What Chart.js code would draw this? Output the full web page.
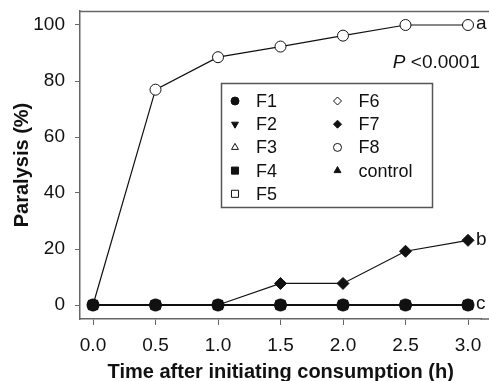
<!DOCTYPE html>
<html>
<head>
<meta charset="utf-8">
<script src="https://cdn.jsdelivr.net/npm/chart.js@4"></script>
<style>
    html, body { margin: 0; padding: 0; background: #fff; }
    #wrap { width: 489px; height: 381px; }
</style>
</head>
<body>
<div id="wrap"><canvas id="chart" width="489" height="381"></canvas></div>
<script>
// Data
const hours = [0.0, 0.5, 1.0, 1.5, 2.0, 2.5, 3.0];
const seriesNames = ['F1', 'F2', 'F3', 'F4', 'F5', 'F6', 'F7', 'F8', 'control'];
const f1 = [0, 0, 0, 0, 0, 0, 0];
const f2 = [0, 0, 0, 0, 0, 0, 0];
const f3 = [0, 0, 0, 0, 0, 0, 0];
const f4 = [0, 0, 0, 0, 0, 0, 0];
const f5 = [0, 0, 0, 0, 0, 0, 0];
const f6 = [0, 0, 0, 0, 0, 0, 0];
const f7 = [0, 0, 0, 7.7, 7.7, 19.2, 23.1];
const f8 = [0, 76.9, 88.5, 92.3, 96.2, 100, 100];
const control = [0, 0, 0, 0, 0, 0, 0];
const xTicks = [0, 0.5, 1.0, 1.5, 2.0, 2.5, 3.0];
const yTicks = [0, 20, 40, 60, 80, 100];
const letters = [['a', 100], ['b', 23.1], ['c', 0]];
const pLabel = ['P', ' <0.0001'];

const values = [f1, f2, f3, f4, f5, f6, f7, f8, control];

// marker look for each series
const markers = [
    { style: 'circle', fill: true, rot: 0, r: 6 },
    { style: 'triangle', fill: true, rot: 180, r: 6 },
    { style: 'triangle', fill: false, rot: 0, r: 6 },
    { style: 'rect', fill: true, rot: 0, r: 6.5 },
    { style: 'rect', fill: false, rot: 0, r: 6.5 },
    { style: 'rectRot', fill: false, rot: 0, r: 6 },
    { style: 'rectRot', fill: true, rot: 0, r: 6 },
    { style: 'circle', fill: false, rot: 0, r: 5.5 },
    { style: 'triangle', fill: true, rot: 0, r: 6 }
];

const FONT = "'Liberation Sans', Arial, Helvetica, sans-serif";
const INK = '#111';
const FRAME = '#666';

const datasets = seriesNames.map((name, i) => ({
    label: name,
    data: hours.map((h, j) => ({ x: h, y: values[i][j] })),
    borderColor: INK,
    borderWidth: 1.2,
    pointStyle: markers[i].style,
    rotation: markers[i].rot,
    pointRadius: markers[i].r,
    pointBorderWidth: 1,
    pointBorderColor: INK,
    pointBackgroundColor: markers[i].fill ? INK : '#fff',
    tension: 0
}));

const overlay = {
    id: 'overlay',
    afterDraw(chart) {
        const ctx = chart.ctx;
        const a = chart.chartArea;
        const xs = chart.scales.x, ys = chart.scales.y;
        ctx.save();
        // top frame line, and the bottom axis line carried to the edge
        ctx.strokeStyle = FRAME;
        ctx.lineWidth = 1.5;
        ctx.beginPath();
        ctx.moveTo(a.left, a.top + 0.5);
        ctx.lineTo(chart.width, a.top + 0.5);
        ctx.moveTo(a.right - 1, xs.top);
        ctx.lineTo(chart.width, xs.top);
        ctx.stroke();

        // group letters at the end of the lines
        ctx.fillStyle = INK;
        ctx.font = '19px ' + FONT;
        ctx.textBaseline = 'middle';
        ctx.textAlign = 'left';
        letters.forEach(([t, v]) => {
            ctx.fillText(t, xs.getPixelForValue(hours[hours.length - 1]) + 8, ys.getPixelForValue(v) - 1);
        });

        // P value
        const py = ys.getPixelForValue(86.5);
        ctx.font = '19px ' + FONT;
        const restW = ctx.measureText(pLabel[1]).width;
        const right = chart.width - 9;
        ctx.textAlign = 'right';
        ctx.fillText(pLabel[1], right, py);
        ctx.font = 'italic 19px ' + FONT;
        ctx.fillText(pLabel[0], right - restW, py);

        // legend box, two columns filled top to bottom
        const box = { l: 221.5, t: 83.5, w: 211, h: 124 };
        ctx.strokeStyle = '#555';
        ctx.lineWidth = 1.5;
        ctx.strokeRect(box.l, box.t, box.w, box.h);
        const rows = 5;
        ctx.font = '18px ' + FONT;
        ctx.textAlign = 'left';
        seriesNames.forEach((name, i) => {
            const col = Math.floor(i / rows), row = i % rows;
            const mx = box.l + 13.5 + col * 102.5;
            const my = box.t + 17.5 + row * 23.2;
            const m = markers[i];
            ctx.fillStyle = m.fill ? INK : '#fff';
            ctx.strokeStyle = INK;
            ctx.lineWidth = 1;
            Chart.helpers.drawPoint(ctx, {
                pointStyle: m.style, rotation: m.rot,
                radius: m.style === 'rect' ? 5 : 4, borderWidth: 1
            }, mx, my);
            ctx.fillStyle = INK;
            ctx.fillText(name, mx + 21, my + 1);
        });
        ctx.restore();
    }
};

new Chart(document.getElementById('chart'), {
    type: 'line',
    data: { datasets: datasets },
    options: {
        responsive: false,
        animation: false,
        layout: { padding: { top: 11, right: 0, left: 0, bottom: 0 } },
        plugins: { legend: { display: false }, tooltip: { enabled: false } },
        scales: {
            x: {
                type: 'linear',
                min: -0.104,
                max: 3.108,
                afterBuildTicks: s => { s.ticks = xTicks.map(v => ({ value: v })); },
                afterFit: s => { s.height = 62; s.paddingLeft = 0; s.paddingRight = 0; },
                border: { display: true, color: FRAME, width: 1.5 },
                grid: { drawOnChartArea: false, drawTicks: true, tickLength: 6, color: FRAME, lineWidth: 1 },
                ticks: {
                    color: INK, padding: 9,
                    font: { family: FONT, size: 19 },
                    callback: v => v.toFixed(1)
                },
                title: {
                    display: true,
                    text: 'Time after initiating consumption (h)',
                    color: INK,
                    font: { family: FONT, size: 20, weight: 'bold' },
                    padding: { top: 0, bottom: -3 }
                }
            },
            y: {
                type: 'linear',
                min: -5,
                max: 105,
                afterBuildTicks: s => { s.ticks = yTicks.map(v => ({ value: v })); },
                afterFit: s => { s.width = 80; s.paddingTop = 0; s.paddingBottom = 0; },
                border: { display: true, color: FRAME, width: 1.5 },
                grid: { drawOnChartArea: false, drawTicks: true, tickLength: 5, color: FRAME, lineWidth: 1 },
                ticks: {
                    color: INK, padding: 10,
                    font: { family: FONT, size: 19 }
                },
                title: {
                    display: true,
                    text: 'Paralysis (%)',
                    color: INK,
                    font: { family: FONT, size: 20, weight: 'bold' },
                    padding: { top: 10, bottom: 0 }
                }
            }
        }
    },
    plugins: [overlay]
});
</script>
</body>
</html>
